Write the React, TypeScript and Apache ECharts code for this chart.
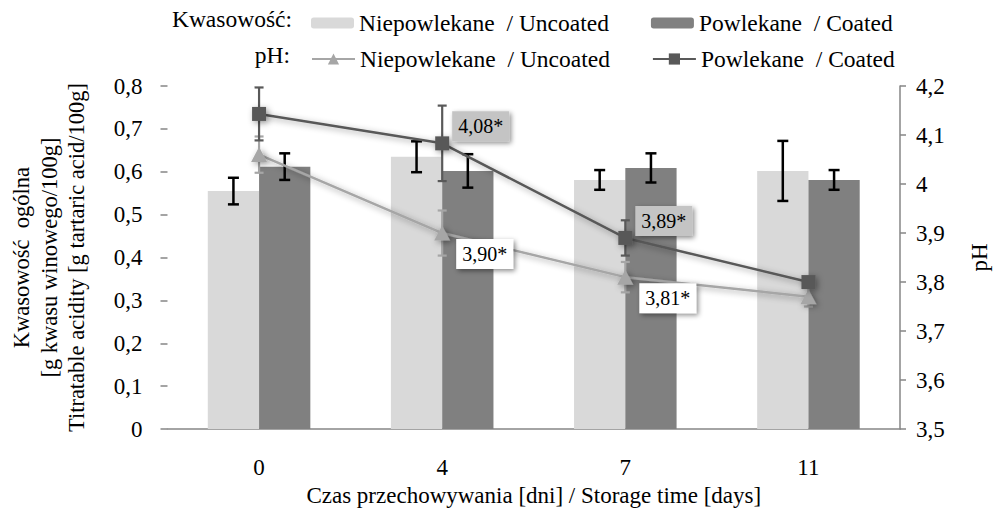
import React, { useEffect, useRef } from 'react';
import * as echarts from 'echarts';

const categories = ['0', '4', '7', '11'];
const acidUncoated = [0.555, 0.635, 0.581, 0.602];
const acidCoated = [0.612, 0.602, 0.609, 0.581];
const acidUncoatedErr = [0.031, 0.036, 0.023, 0.07];
const acidCoatedErr = [0.031, 0.039, 0.034, 0.023];
const phUncoated = [4.06, 3.9, 3.81, 3.77];
const phCoated = [4.143, 4.083, 3.89, 3.8];
const phUncoatedErr = [0.037, 0.046, 0.031, 0.02];
const phCoatedErr = [0.054, 0.077, 0.036, 0.01];
const phUncoatedLabels = ['', '3,90*', '3,81*', ''];
const phCoatedLabels = ['', '4,08*', '3,89*', ''];

const legendText: Record<string, string> = {
  acidU: 'Niepowlekane  / Uncoated',
  acidC: 'Powlekane  / Coated',
  phU: 'Niepowlekane  / Uncoated',
  phC: 'Powlekane  / Coated',
};

const FONT = 'Liberation Serif';
const LIGHT = '#d9d9d9';
const DARK = '#808080';
const PH_U = '#a6a6a6';
const PH_C = '#595959';
const AXIS = '#868686';
const CAT_GAP = 0.44;

const fmt = (v: number) => String(Math.round(v * 10) / 10).replace('.', ',');

function errRows(vals: number[], errs: number[], side: number) {
  return vals.map((v, i) => [i, v - errs[i], v + errs[i], side]);
}

function makeErrRender(color: string, width: number, cap: number, useSide: boolean) {
  return (params: any, api: any) => {
    const idx = api.value(0);
    const lo = api.value(1);
    const hi = api.value(2);
    const side = api.value(3);
    const band = api.size([1, 0])[0];
    const barW = (band * (1 - CAT_GAP)) / 2;
    const off = useSide ? (side * barW) / 2 : 0;
    const pHi = api.coord([idx, hi]);
    const pLo = api.coord([idx, lo]);
    const x = pHi[0] + off;
    const style = { stroke: color, lineWidth: width };
    return {
      type: 'group',
      children: [
        { type: 'line', shape: { x1: x, y1: pHi[1], x2: x, y2: pLo[1] }, style },
        { type: 'line', shape: { x1: x - cap, y1: pHi[1], x2: x + cap, y2: pHi[1] }, style },
        { type: 'line', shape: { x1: x - cap, y1: pLo[1], x2: x + cap, y2: pLo[1] }, style },
      ],
    };
  };
}

const shadow = {
  shadowBlur: 6,
  shadowColor: 'rgba(0,0,0,0.4)',
  shadowOffsetX: 2,
  shadowOffsetY: 2,
};

const labelBase = {
  position: 'right',
  fontFamily: FONT,
  fontSize: 20,
  lineHeight: 20,
  color: '#000',
  padding: [5, 6],
  shadowBlur: 5,
  shadowColor: 'rgba(0,0,0,0.45)',
  shadowOffsetX: 2,
  shadowOffsetY: 2,
};

export default function App() {
  const ref = useRef<HTMLDivElement>(null);
  useEffect(() => {
    if (!ref.current) return;
    const chart = echarts.init(ref.current, null, { renderer: 'svg' });
    const legendCommon = {
      orient: 'horizontal',
      itemWidth: 43,
      itemGap: 42,
      textStyle: { fontFamily: FONT, fontSize: 23.5, color: '#000' },
      formatter: (n: string) => legendText[n],
      selectedMode: false,
    };
    chart.setOption({
      animation: false,
      textStyle: { fontFamily: FONT },
      grid: { left: 160, right: 92, top: 86, bottom: 76, containLabel: false },
      legend: [
        { ...legendCommon, left: 306, top: 6, itemHeight: 11, data: ['acidU', 'acidC'] },
        { ...legendCommon, left: 306, top: 42, itemHeight: 14, data: ['phU', 'phC'] },
      ],
      graphic: [
        {
          type: 'text',
          right: 999 - 292,
          top: 7,
          style: { text: 'Kwasowość:', fontFamily: FONT, fontSize: 23.5, fill: '#000' },
        },
        {
          type: 'text',
          right: 999 - 290,
          top: 43,
          style: { text: 'pH:', fontFamily: FONT, fontSize: 23.5, fill: '#000' },
        },
      ],
      xAxis: {
        type: 'category',
        data: categories,
        axisLine: { lineStyle: { color: AXIS, width: 1.5 } },
        axisTick: { length: 6, lineStyle: { color: AXIS, width: 1.5 } },
        axisLabel: { fontFamily: FONT, fontSize: 23, color: '#000', margin: 27 },
        name: 'Czas przechowywania [dni] / Storage time [days]',
        nameLocation: 'middle',
        nameGap: 50,
        nameTextStyle: { fontFamily: FONT, fontSize: 23, color: '#000' },
      },
      yAxis: [
        {
          type: 'value',
          min: 0,
          max: 0.8,
          interval: 0.1,
          splitLine: { show: false },
          axisLine: { show: false },
          axisTick: { show: true, length: 7, lineStyle: { color: AXIS, width: 1.5 } },
          axisLabel: { fontFamily: FONT, fontSize: 23, color: '#000', margin: 25, formatter: fmt },
          name: 'Kwasowość  ogólna\n[g kwasu winowego/100g]\nTitratable acidity [g tartaric acid/100g]',
          nameLocation: 'middle',
          nameRotate: 90,
          nameGap: 77,
          nameTextStyle: { fontFamily: FONT, fontSize: 22.5, color: '#000', lineHeight: 27.5, align: 'center' },
        },
        {
          type: 'value',
          min: 3.5,
          max: 4.2,
          interval: 0.1,
          position: 'right',
          splitLine: { show: false },
          axisLine: { show: true, lineStyle: { color: AXIS, width: 1.5 } },
          axisTick: { show: true, length: 6, lineStyle: { color: AXIS, width: 1.5 } },
          axisLabel: { fontFamily: FONT, fontSize: 23, color: '#000', margin: 16, formatter: fmt },
          name: 'pH',
          nameLocation: 'middle',
          nameRotate: 90,
          nameGap: 68,
          nameTextStyle: { fontFamily: FONT, fontSize: 23, color: '#000' },
        },
      ],
      series: [
        {
          type: 'bar',
          name: 'acidU',
          data: acidUncoated,
          itemStyle: { color: LIGHT },
          barGap: '0%',
          barCategoryGap: `${CAT_GAP * 100}%`,
          z: 1,
        },
        {
          type: 'bar',
          name: 'acidC',
          data: acidCoated,
          itemStyle: { color: DARK },
          z: 1,
        },
        {
          type: 'custom',
          name: 'acidErr',
          yAxisIndex: 0,
          data: [...errRows(acidUncoated, acidUncoatedErr, -1), ...errRows(acidCoated, acidCoatedErr, 1)],
          encode: { x: 0, y: [1, 2] },
          renderItem: makeErrRender('#000', 2.5, 5.5, true),
          z: 3,
          silent: true,
        },
        {
          type: 'custom',
          name: 'phErr',
          yAxisIndex: 1,
          data: [...errRows(phUncoated, phUncoatedErr, 0), ...errRows(phCoated, phCoatedErr, 0)],
          encode: { x: 0, y: [1, 2] },
          renderItem: (params: any, api: any) => {
            const color = params.dataIndex < phUncoated.length ? PH_U : PH_C;
            return makeErrRender(color, 2.2, 4.5, false)(params, api);
          },
          z: 4,
          silent: true,
        },
        {
          type: 'line',
          name: 'phU',
          yAxisIndex: 1,
          data: phUncoated.map((v, i) => ({ value: v, label: { show: phUncoatedLabels[i] !== '' } })),
          symbol: 'triangle',
          symbolSize: [16, 15],
          itemStyle: { color: PH_U, ...shadow },
          lineStyle: { color: PH_U, width: 2.5, ...shadow },
          label: {
            ...labelBase,
            offset: [1, 21],
            backgroundColor: '#ffffff',
            formatter: (p: any) => phUncoatedLabels[p.dataIndex],
          },
          z: 5,
        },
        {
          type: 'line',
          name: 'phC',
          yAxisIndex: 1,
          data: phCoated.map((v, i) => ({ value: v, label: { show: phCoatedLabels[i] !== '' } })),
          symbol: 'rect',
          symbolSize: 14,
          itemStyle: { color: PH_C, ...shadow },
          lineStyle: { color: PH_C, width: 2.5, ...shadow },
          label: {
            ...labelBase,
            offset: [-2, -17],
            backgroundColor: '#c4c4c4',
            formatter: (p: any) => phCoatedLabels[p.dataIndex],
          },
          z: 6,
        },
      ],
    });
    return () => chart.dispose();
  }, []);
  return <div ref={ref} style={{ width: 999, height: 512, position: 'absolute', left: 0, top: 0 }} />;
}
